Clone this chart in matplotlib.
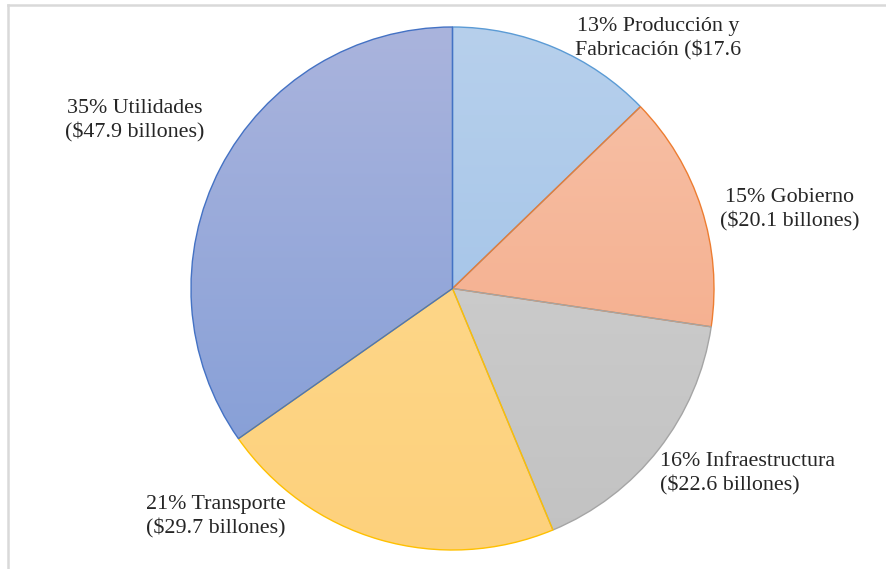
import numpy as np
import matplotlib
matplotlib.use("Agg")
import matplotlib.pyplot as plt
from matplotlib.colors import LinearSegmentedColormap
from matplotlib.lines import Line2D

# Gasto por sector (miles de millones de dólares)
sectors = ["Producción y Fabricación", "Gobierno", "Infraestructura", "Transporte", "Utilidades"]
values = [17.6, 20.1, 22.6, 29.7, 47.9]
percents = [13, 15, 16, 21, 35]
label_texts = [
    "13% Producción y\nFabricación ($17.6",
    "15% Gobierno\n($20.1 billones)",
    "16% Infraestructura\n($22.6 billones)",
    "21% Transporte\n($29.7 billones)",
    "35% Utilidades\n($47.9 billones)",
]

# gradient (top, bottom) and outline per slice
fill_top = ["#b7d0ec", "#f7c3aa", "#d3d3d3", "#ffdb94", "#aab4dd"]
fill_bottom = ["#99bde6", "#f4a47f", "#c2c2c2", "#fdd17c", "#7f9bd6"]
edges = ["#5b9bd5", "#ed7d31", "#a5a5a5", "#ffc000", "#4472c4"]

W, H = 887, 569
fig = plt.figure(figsize=(W / 100, H / 100), dpi=100)

# pie axes sized in pixels around the centre
cx, cy, r = 452.5, 288.5, 261.5
ax = fig.add_axes([(cx - r) / W, 1 - (cy + r) / H, 2 * r / W, 2 * r / H])
wedges, _ = ax.pie(values, startangle=90, counterclock=False, radius=1,
                   wedgeprops=dict(linewidth=1.0))
ax.set_xlim(-1, 1)
ax.set_ylim(-1, 1)
ax.set_aspect("equal")
ax.axis("off")

for w, top, bot, ec in zip(wedges, fill_top, fill_bottom, edges):
    w.set_facecolor("none")
    w.set_edgecolor(ec)
    w.set_zorder(3)
    cmap = LinearSegmentedColormap.from_list("g", [top, bot])
    grad = np.linspace(0, 1, 256).reshape(-1, 1)
    im = ax.imshow(grad, cmap=cmap, extent=[-1, 1, -1, 1], origin="upper",
                   aspect="auto", zorder=2, interpolation="bilinear")
    im.set_clip_path(w)

# data labels
label_pos = [(658, 39, "center"), (790, 210, "center"), (660, 474, "left"),
             (216, 517, "center"), (135, 121, "center")]
for txt, (x, y, ha) in zip(label_texts, label_pos):
    fig.text(x / W, 1 - y / H, txt, ha=ha, va="center", multialignment=ha,
             fontsize=15.8, family="Liberation Serif", color="#262626",
             linespacing=1.3)

# frame lines (top and left)
fig.add_artist(Line2D([8 / W, 1], [1 - 5 / H, 1 - 5 / H], color="#d9d9d9", lw=1.8))
fig.add_artist(Line2D([8 / W, 8 / W], [0, 1 - 5 / H], color="#d9d9d9", lw=1.8))

fig.savefig("out.png", dpi=100)
